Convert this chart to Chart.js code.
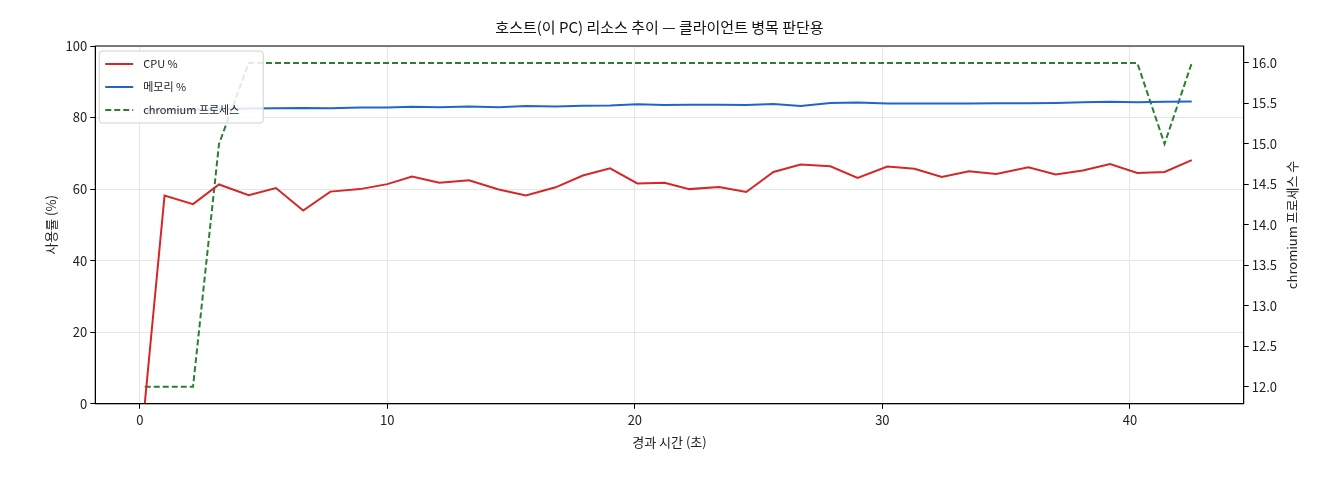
<!DOCTYPE html>
<html>
<head>
<meta charset="utf-8">
<script src="https://cdn.jsdelivr.net/npm/chart.js@4"></script>
<style>
  body { margin: 0; background: #fff; }
</style>
</head>
<body>
<canvas id="chart" width="1320" height="480"></canvas>
<script>
const times = [0.2, 1.0, 2.15, 3.2, 4.4, 5.5, 6.6, 7.7, 8.9, 10.0, 11.0, 12.1, 13.3, 14.5, 15.6, 16.8, 17.9, 19.0, 20.1,
    21.2, 22.2, 23.4, 24.5, 25.6, 26.7, 27.9, 29.0, 30.2, 31.3, 32.4, 33.5, 34.6, 35.9, 37.0, 38.1, 39.2, 40.3, 41.4, 42.5];
const cpu = [0, 58.2, 55.8, 61.3, 58.3, 60.3, 54.0, 59.3, 60.0, 61.4, 63.5, 61.8, 62.5, 59.9, 58.2, 60.5, 63.8, 65.8, 61.6,
    61.8, 60.0, 60.6, 59.2, 64.8, 66.9, 66.4, 63.1, 66.3, 65.7, 63.4, 65.0, 64.2, 66.1, 64.1, 65.2, 67.0, 64.5, 64.8, 68.1];
const memory = [82.0, 82.1, 82.2, 82.3, 82.5, 82.6, 82.7, 82.6, 82.8, 82.8, 83.0, 82.9, 83.1, 82.9, 83.2, 83.1, 83.3, 83.4, 83.7,
    83.5, 83.6, 83.6, 83.5, 83.8, 83.2, 84.1, 84.2, 83.9, 83.9, 83.9, 83.9, 84.0, 84.0, 84.1, 84.3, 84.4, 84.3, 84.4, 84.5];
const procs = [12, 12, 12, 15, 16, 16, 16, 16, 16, 16, 16, 16, 16, 16, 16, 16, 16, 16, 16,
    16, 16, 16, 16, 16, 16, 16, 16, 16, 16, 16, 16, 16, 16, 16, 16, 16, 16, 15, 16];
const procTicks = [12, 12.5, 13, 13.5, 14, 14.5, 15, 15.5, 16];

const FONT = "'Noto Sans CJK KR', 'DejaVu Sans', sans-serif";
const pts = arr => arr.map((v, i) => ({ x: times[i], y: v }));

const legendInside = {
    id: 'legendInside',
    afterDraw(chart) {
        const c = chart.ctx, a = chart.chartArea;
        const items = chart.data.datasets;
        const x0 = a.left + 4, y0 = a.top + 5, w = 164, h = 72;
        c.save();
        c.fillStyle = 'rgba(255,255,255,0.85)';
        c.strokeStyle = '#d0d0d0';
        c.lineWidth = 1;
        c.beginPath();
        c.roundRect(x0, y0, w, h, 3);
        c.fill();
        c.stroke();
        c.font = '11px ' + FONT;
        c.textBaseline = 'middle';
        items.forEach((ds, i) => {
            const y = y0 + 13 + i * 23;
            c.strokeStyle = ds.borderColor;
            c.lineWidth = 2;
            c.setLineDash(ds.borderDash || []);
            c.beginPath();
            c.moveTo(x0 + 6, y);
            c.lineTo(x0 + 34, y);
            c.stroke();
            c.setLineDash([]);
            c.fillStyle = '#222';
            c.fillText(ds.label, x0 + 44, y);
        });
        c.restore();
    }
};

// right axis title, read bottom to top
const rightTitle = {
    id: 'rightTitle',
    afterDraw(chart) {
        const c = chart.ctx, a = chart.chartArea;
        c.save();
        c.translate(1292, (a.top + a.bottom) / 2);
        c.rotate(-Math.PI / 2);
        c.font = '13px ' + FONT;
        c.fillStyle = '#222';
        c.textAlign = 'center';
        c.textBaseline = 'middle';
        c.fillText('chromium 프로세스 수', 0, 0);
        c.restore();
    }
};

new Chart(document.getElementById('chart').getContext('2d'), {
    type: 'line',
    data: {
        datasets: [
            { label: 'CPU %', data: pts(cpu), borderColor: '#d62728', borderWidth: 2, pointRadius: 0, yAxisID: 'y' },
            { label: '메모리 %', data: pts(memory), borderColor: '#1f66c9', borderWidth: 2, pointRadius: 0, yAxisID: 'y' },
            { label: 'chromium 프로세스', data: pts(procs), borderColor: '#2e7d32', borderWidth: 2, borderDash: [6, 3],
              pointRadius: 0, yAxisID: 'y1' }
        ]
    },
    options: {
        responsive: false,
        animation: false,
        layout: { padding: { left: 39, right: 40, top: 8, bottom: 26 } },
        plugins: {
            legend: { display: false },
            tooltip: { enabled: false },
            title: {
                display: true,
                text: '호스트(이 PC) 리소스 추이 — 클라이언트 병목 판단용',
                color: '#111',
                font: { family: FONT, size: 15, weight: 'normal' },
                padding: { top: 10, bottom: 10 }
            }
        },
        scales: {
            x: {
                type: 'linear', min: -1.8, max: 44.6,
                border: { color: '#000', width: 1 },
                grid: { color: '#e6e6e6', tickColor: '#000', tickLength: 5 },
                afterBuildTicks: s => { s.ticks = [0, 10, 20, 30, 40].map(v => ({ value: v })); },
                ticks: { color: '#222', font: { family: FONT, size: 13 } },
                title: { display: true, text: '경과 시간 (초)', color: '#222', font: { family: FONT, size: 13 } }
            },
            y: {
                position: 'left', min: 0, max: 100,
                border: { color: '#000', width: 1 },
                grid: { color: '#e6e6e6', tickColor: '#000', tickLength: 5 },
                ticks: { stepSize: 20, color: '#222', font: { family: FONT, size: 13 } },
                title: { display: true, text: '사용률 (%)', color: '#222', font: { family: FONT, size: 13 } }
            },
            y1: {
                position: 'right', min: 11.79, max: 16.21,
                border: { color: '#000', width: 1 },
                grid: { drawOnChartArea: false, tickColor: '#000', tickLength: 5 },
                afterBuildTicks: s => { s.ticks = procTicks.map(v => ({ value: v })); },
                ticks: { color: '#222', font: { family: FONT, size: 13 }, callback: v => v.toFixed(1) }
            }
        }
    },
    plugins: [legendInside, rightTitle, {
        id: 'frame',
        afterDraw(chart) {
            const c = chart.ctx, a = chart.chartArea;
            c.save();
            c.strokeStyle = '#000';
            c.lineWidth = 1;
            c.strokeRect(a.left, a.top, a.right - a.left, a.bottom - a.top);
            c.restore();
        }
    }]
});
</script>
</body>
</html>
